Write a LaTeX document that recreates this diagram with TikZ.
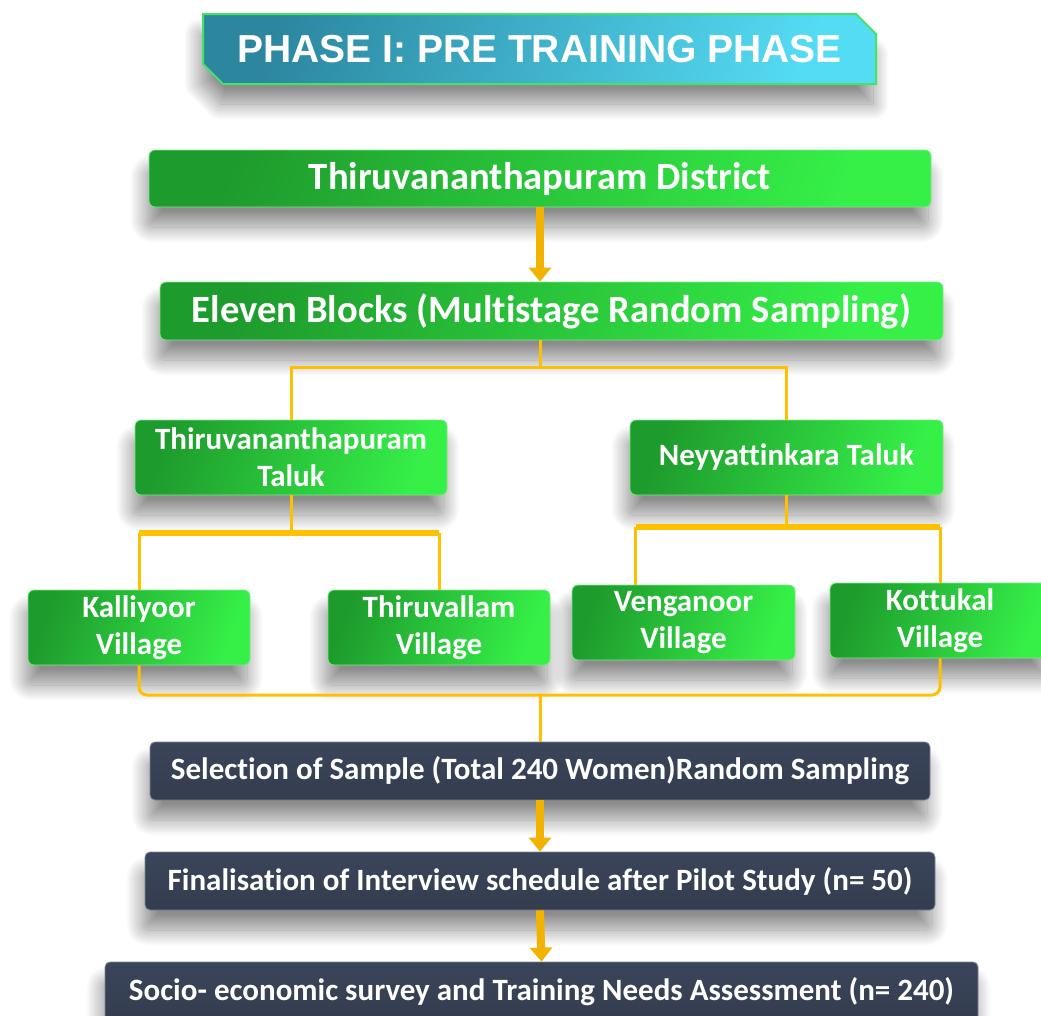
\documentclass[tikz,border=0pt]{standalone}
\usepackage{fontspec}
\setmainfont{Carlito}[Ligatures=NoCommon]
\newfontfamily\titlefont{Liberation Sans}
\usetikzlibrary{arrows.meta,shapes.misc,shadows.blur,calc}

\definecolor{gDark}{HTML}{1E9B2D}
\definecolor{gLight}{HTML}{36F048}
\definecolor{gEdge}{HTML}{7BEA86}
\definecolor{tDark}{HTML}{2C86A0}
\definecolor{tLight}{HTML}{54DCF4}
\definecolor{tEdge}{HTML}{46E266}
\definecolor{slate}{HTML}{343D4F}
\definecolor{slateTop}{HTML}{3B455A}
\definecolor{slateEdge}{HTML}{7A8698}
\definecolor{gold}{HTML}{FFC000}
\definecolor{goldDeep}{HTML}{F2B300}

\tikzset{
  softshadow/.style={blur shadow={shadow xshift=-3pt, shadow yshift=-20pt,
      shadow blur radius=16pt, shadow blur steps=24, shadow opacity=45}},
  titlebox/.style={chamfered rectangle, chamfered rectangle corners={north east,south west},
      chamfered rectangle xsep=10pt, chamfered rectangle ysep=10pt,
      draw=tEdge, line width=2pt, left color=tDark, right color=tLight, shading angle=70,
      text=white, inner sep=0pt, softshadow,
      font=\titlefont\bfseries\fontsize{39}{44}\selectfont},
  greenbox/.style={rectangle, rounded corners=6pt, draw=gEdge, line width=0.8pt,
      left color=gDark, right color=gLight, shading angle=70,
      text=white, inner sep=0pt, align=center, softshadow},
  bigtext/.style={font=\bfseries\fontsize{38.6}{44}\selectfont},
  smalltext/.style={font=\bfseries\fontsize{31}{37}\selectfont},
  slatebox/.style={rectangle, rounded corners=5pt, draw=slateEdge, line width=0.8pt,
      top color=slateTop, bottom color=slate, text=white, inner sep=0pt, align=center,
      softshadow, font=\bfseries\fontsize{31}{37}\selectfont},
  branch/.style={draw=gold, line width=3pt},
  bar/.style={draw=gold, line width=6pt},
  goldarrow/.style={draw=goldDeep, line width=8pt, -{Triangle[width=22pt,length=14pt]}},
}

\begin{document}
\begin{tikzpicture}[x=1pt,y=-1pt]
\useasboundingbox (0,0) rectangle (1041,1015);

% title banner
\node[titlebox, minimum width=673pt, minimum height=70pt] (title) at (539.5,49)
  {PHASE I: PRE TRAINING PHASE};

% sampling hierarchy
\node[greenbox, bigtext, minimum width=782pt, minimum height=57pt] (district) at (540,178.5)
  {Thiruvananthapuram District};
\node[greenbox, bigtext, minimum width=783pt, minimum height=58pt] (blocks) at (551.5,311)
  {Eleven Blocks (Multistage Random Sampling)};

\node[greenbox, smalltext, minimum width=312pt, minimum height=75pt] (tvmtaluk) at (291,457.5)
  {Thiruvananthapuram\\Taluk};
\node[greenbox, smalltext, minimum width=313pt, minimum height=75pt] (nyttaluk) at (786.5,457.5)
  {Neyyattinkara Taluk};

\node[greenbox, smalltext, minimum width=222pt, minimum height=75pt] (kalliyoor) at (139,627.5)
  {Kalliyoor\\Village};
\node[greenbox, smalltext, minimum width=222pt, minimum height=75pt] (thiruvallam) at (439,627.5)
  {Thiruvallam\\Village};
\node[greenbox, smalltext, minimum width=223pt, minimum height=75pt] (venganoor) at (683.5,622.5)
  {Venganoor\\Village};
\node[greenbox, smalltext, minimum width=220pt, minimum height=75pt] (kottukal) at (940,620.5)
  {Kottukal\\Village};

% survey steps
\node[slatebox, minimum width=780pt, minimum height=58pt] (sample) at (540,771)
  {Selection of Sample (Total 240 Women)Random Sampling};
\node[slatebox, minimum width=790pt, minimum height=58pt] (pilot) at (540,881)
  {Finalisation of Interview schedule after Pilot Study (n= 50)};
\node[slatebox, minimum width=873pt, minimum height=60pt] (survey) at (541.5,992)
  {Socio- economic survey and Training Needs Assessment (n= 240)};

% junction points
\coordinate (j1) at ($(district.south |- blocks.south)+(0,27)$);
\coordinate (j2) at ($(tvmtaluk.south)+(0,38)$);
\coordinate (j3) at ($(nyttaluk.south)+(0,32)$);
\coordinate (vgdrop) at ($(venganoor.north west)+(64,0)$);
\coordinate (j4) at (540,695);

% connectors
\draw[goldarrow] (district.south) -- (district.south |- blocks.north);

\draw[branch] (district.south |- blocks.south) -- (j1);
\draw[branch] (tvmtaluk.north) |- (j1) -| (nyttaluk.north);

\draw[branch] (tvmtaluk.south) -- (j2);
\draw[bar] (kalliyoor.north |- j2) -- (thiruvallam.north |- j2);
\draw[branch] (kalliyoor.north) -- (kalliyoor.north |- j2);
\draw[branch] (thiruvallam.north) -- (thiruvallam.north |- j2);

\draw[branch] (nyttaluk.south) -- (j3);
\draw[bar] (vgdrop |- j3) -- (kottukal.north |- j3);
\draw[branch] (vgdrop) -- (vgdrop |- j3);
\draw[branch] (kottukal.north) -- (kottukal.north |- j3);

\draw[branch, rounded corners=8pt] (kalliyoor.south) |- (j4) -| (kottukal.south);
\draw[branch] (j4) -- (sample.north);

\draw[goldarrow] (sample.south) -- (pilot.north);
\draw[goldarrow] (pilot.south) -- (survey.north);
\end{tikzpicture}
\end{document}
